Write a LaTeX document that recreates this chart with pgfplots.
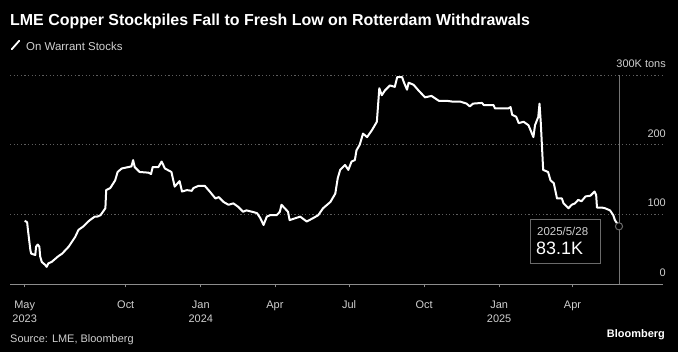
\documentclass[border=0pt]{standalone}
\usepackage{fontspec}
\setmainfont{Liberation Sans}
\usepackage{pgfplots}
\usepackage{pgfplotstable}
\pgfplotsset{compat=1.18}
\definecolor{lbl}{HTML}{D0D0D0}
\definecolor{gridc}{HTML}{5E5E5E}
\definecolor{axc}{HTML}{8C8C8C}
\pgfplotstableread{
d v
-124 91
-121 89
-120 78
-117 49
-116 44
-111 42
-110 54
-108 57
-106 54
-105 40
-103 32
-99 28
-97 25
-95 30
-91 32
-87 36
-83 40
-78 44
-74 49
-70 54
-66 61
-62 68
-58 78
-52 83
-46 90
-44 92
-38 97
-35 97
-31 99
-25 109
-24 135
-19 138
-13 149
-10 161
-5 166
7 169
9 178
11 168
17 161
28 160
31 158
33 168
40 168
44 176
48 166
56 161
60 140
66 148
69 133
75 135
81 134
83 138
89 141
97 141
103 133
110 123
114 125
120 118
126 114
132 116
138 111
144 104
148 106
155 104
161 102
165 95
169 85
173 97
177 99
185 99
189 104
191 114
195 109
199 104
201 92
214 97
222 90
230 95
236 99
242 109
251 118
257 130
260 152
263 164
269 171
273 164
277 176
281 178
283 192
287 200
291 216
296 211
302 221
308 233
311 281
314 271
318 278
324 285
330 283
333 297
339 297
341 290
345 279
347 289
353 286
359 278
367 268
375 270
384 263
394 263
400 262
410 262
418 259
422 255
426 259
437 260
439 257
451 257
453 252
469 252
472 254
474 243
479 240
482 231
488 233
494 228
500 211
502 228
506 240
507.5 259
509 233
512 164
518 161
521 149
525 145
529 123
535 123
537 116
543 109
547 114
551 116
555 121
559 119
564 126
570 127
575 133
577 128
578 110
584 110
588 109
594 106
598 99
600 92
605 83.1
}\stocks
\begin{document}
\begin{tikzpicture}[x=1bp,y=1bp]
\fill[black] (-10,-67.7) rectangle (668,284.3);
\begin{axis}[
  at={(0,0)}, anchor=south west,
  width=653bp, height=209.3bp, scale only axis,
  xmin=-142, xmax=659, ymin=0, ymax=300,
  axis x line*=bottom, axis y line*=right,
  x axis line style={axc, line width=0.8bp},
  y axis line style={draw=none},
  xtick={-124,0,92,183,274,366,458,548},
  xticklabels={May\\2023,Oct,Jan\\2024,Apr,Jul,Oct,Jan\\2025,Apr},
  xticklabel style={align=center, font=\fontsize{11}{14}\selectfont, text=lbl, anchor=north, inner sep=0pt, yshift=-13.4bp},
  tick align=outside, major tick length=3bp,
  xtick style={axc, line width=0.8bp},
  ytick={0,100,200,300}, yticklabels={0,100,200,300K tons},
  yticklabel style={anchor=base east, inner sep=0pt, font=\fontsize{11}{13}\selectfont, text=lbl, yshift=7.7bp},
  ytick style={draw=none},
  ymajorgrids, grid style={gridc, dash pattern=on 1.2bp off 2.4bp, line width=0.8bp},
  /pgf/number format/assume math mode=true,
  clip=false,
]
\addplot[axc!120, line width=0.8bp, mark=none] coordinates {(605,0) (605,300)};
\addplot[white, line width=2bp, line join=round, mark=none] table[x=d, y=v] {\stocks};
\addplot[only marks, mark=*, mark size=3.6bp, mark options={fill=black, draw=axc!130, line width=1bp}] coordinates {(605,83.1)};
\end{axis}
\node[anchor=base west, inner sep=0pt, text=white, font=\fontsize{16}{19}\selectfont\bfseries] at (0,259.3) {LME Copper Stockpiles Fall to Fresh Low on Rotterdam Withdrawals};
\draw[white, line width=1.8bp, line cap=round] (1.7,235) -- (9.3,243.6);
\node[anchor=base west, inner sep=0pt, text=lbl, font=\fontsize{11.5}{13}\selectfont] at (16,234.3) {On Warrant Stocks};
\draw[fill=black, draw=axc!130, line width=1bp] (520.7,21) rectangle (590.7,65);
\node[anchor=base west, inner sep=0pt, text=lbl, font=\fontsize{11.5}{13}\selectfont] at (527,48.6) {2025/5/28};
\node[anchor=base west, inner sep=0pt, text=white, font=\fontsize{18}{20}\selectfont] at (526,30) {83.1K};
\node[anchor=base west, inner sep=0pt, text=lbl, font=\fontsize{11}{13}\selectfont] at (0,-57.7) {Source: LME, Bloomberg};
\node[anchor=base east, inner sep=0pt, text=white, font=\fontsize{11}{13}\selectfont\bfseries] at (655,-52.7) {Bloomberg};
\end{tikzpicture}
\end{document}
